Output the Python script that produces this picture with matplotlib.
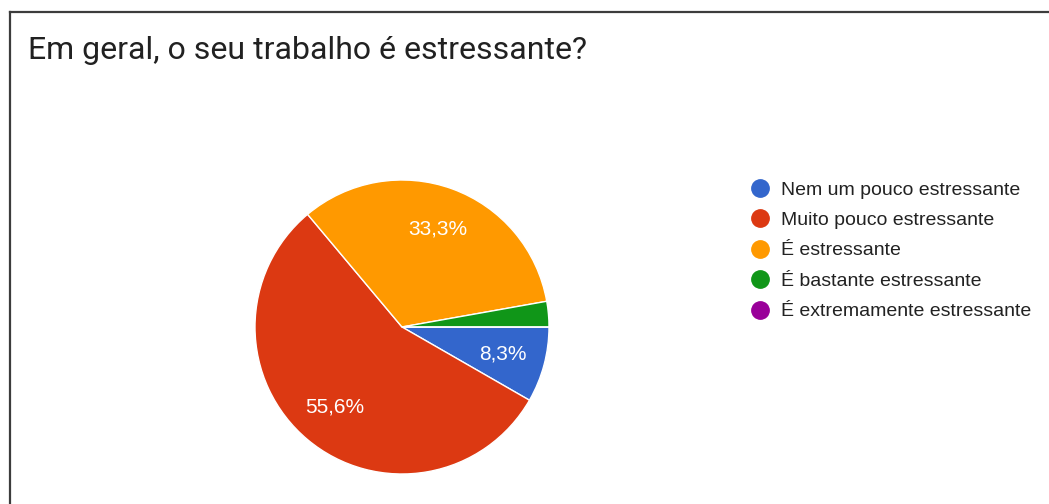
import matplotlib
matplotlib.use("Agg")
import matplotlib.pyplot as plt
from matplotlib.lines import Line2D

# Survey answers (percent of responses)
labels = [
    "Nem um pouco estressante",
    "Muito pouco estressante",
    "É estressante",
    "É bastante estressante",
    "É extremamente estressante",
]
shares = [8.3, 55.6, 33.3, 2.8, 0.0]
colors = ["#3366cc", "#dc3912", "#ff9900", "#109618", "#990099"]

W, H = 1049, 504
fig = plt.figure(figsize=(W / 100, H / 100), dpi=100)
fig.patch.set_facecolor("white")

# card border (left and top edges, the rest runs off the image)
fig.add_artist(Line2D([10 / W, 10 / W], [-0.1, 1 - 12 / H], color="#3c3c3c", lw=1.6))
fig.add_artist(Line2D([10 / W, 1.1], [1 - 12 / H, 1 - 12 / H], color="#3c3c3c", lw=1.6))

fig.text(28 / W, 1 - 59 / H, "Em geral, o seu trabalho é estressante?",
         family="Roboto", fontsize=23, color="#212121", va="baseline", ha="left")

# pie: center (402, 327) px, radius 147 px
cx, cy, r = 402, 327, 147
ax = fig.add_axes([(cx - r) / W, (H - cy - r) / H, 2 * r / W, 2 * r / H])


def fmt_pct(p):
    return f"{p:.1f}".replace(".", ",") + "%" if p >= 5 else ""


wedges, texts, autotexts = ax.pie(
    shares, colors=colors, startangle=0, counterclock=False,
    autopct=fmt_pct, pctdistance=0.71,
    wedgeprops=dict(edgecolor="white", linewidth=1.0),
    textprops=dict(color="white", fontsize=15, family="Liberation Sans"),
)
ax.set_xlim(-1, 1)
ax.set_ylim(-1, 1)
ax.set_aspect("equal")
ax.axis("off")

handles = [Line2D([], [], marker="o", linestyle="", markersize=12.5,
                  markerfacecolor=c, markeredgecolor=c) for c in colors]
fig.legend(handles, labels, loc="upper left",
           bbox_to_anchor=(751 / W, 1 - 181 / H), frameon=False,
           prop=dict(family="Liberation Sans", size=14),
           labelcolor="#222222", labelspacing=0.66,
           handlelength=0.9, handletextpad=0.65, borderpad=0, borderaxespad=0)

fig.savefig("out.png", dpi=100)
